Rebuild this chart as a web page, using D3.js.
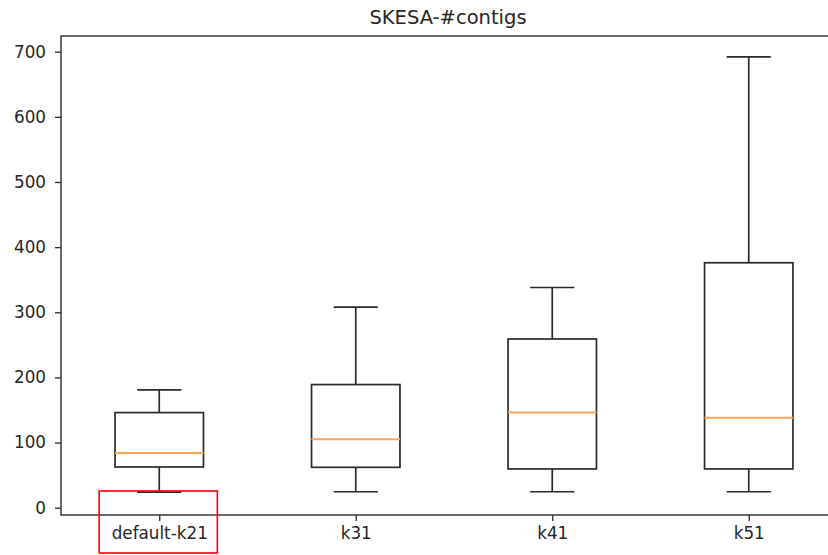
<!DOCTYPE html>
<html>
<head>
<meta charset="utf-8">
<script src="https://cdn.jsdelivr.net/npm/d3@7"></script>
<style>
  html, body { margin: 0; padding: 0; background: #fff; }
  svg { display: block; }
  text { font-family: "DejaVu Sans", sans-serif; fill: #262626; }
</style>
</head>
<body>
<svg id="chart" width="828" height="555"></svg>
<script>
// Number of contigs per k-mer setting (box statistics)
const categories = ["default-k21", "k31", "k41", "k51"];
const whiskerLow = [24, 24.5, 24.5, 24.5];
const q1 = [62.5, 62, 59.5, 59.5];
const median = [84, 105, 146, 138];
const q3 = [146, 189, 259, 376];
const whiskerHigh = [181, 308, 338, 692];
const yTicks = [0, 100, 200, 300, 400, 500, 600, 700];

const svg = d3.select("#chart");
const plotLeft = 61, plotRight = 847, plotTop = 36, plotBottom = 515;

const x = d3.scaleLinear().domain([0.5, categories.length + 0.5]).range([plotLeft, plotRight]);
const y = d3.scaleLinear().domain([-11.2, 724.1]).range([plotBottom, plotTop]);

const boxW = x(1.45) - x(1);       // box width 0.45 units
const capW = boxW / 2;

const ink = "#2b2b2b";
const lw = 1.7;
const tickFont = 16.8;

// axes
const yAxis = d3.axisLeft(y).tickValues(yTicks).tickSize(6).tickPadding(9);
const gy = svg.append("g").attr("transform", `translate(${plotLeft},0)`).call(yAxis);
gy.select(".domain").remove();
gy.selectAll("line").attr("stroke", ink).attr("stroke-width", 1.3);
gy.selectAll("text").attr("font-size", tickFont).attr("fill", "#262626");

const xAxis = d3.axisBottom(x).tickValues(categories.map((d, i) => i + 1))
  .tickFormat((d) => categories[d - 1]).tickSize(6).tickPadding(6);
const gx = svg.append("g").attr("transform", `translate(0,${plotBottom})`).call(xAxis);
gx.select(".domain").remove();
gx.selectAll("line").attr("stroke", ink).attr("stroke-width", 1.3);
gx.selectAll("text").attr("font-size", tickFont).attr("fill", "#262626");

// frame (spines)
svg.append("rect")
  .attr("x", plotLeft).attr("y", plotTop)
  .attr("width", plotRight - plotLeft).attr("height", plotBottom - plotTop)
  .attr("fill", "none").attr("stroke", ink).attr("stroke-width", 1.4);

// boxes
const g = svg.append("g");
categories.forEach((c, i) => {
  const cx = x(i + 1);
  // whiskers
  g.append("line").attr("x1", cx).attr("x2", cx).attr("y1", y(q3[i])).attr("y2", y(whiskerHigh[i]))
    .attr("stroke", ink).attr("stroke-width", lw);
  g.append("line").attr("x1", cx).attr("x2", cx).attr("y1", y(q1[i])).attr("y2", y(whiskerLow[i]))
    .attr("stroke", ink).attr("stroke-width", lw);
  // caps
  [whiskerHigh[i], whiskerLow[i]].forEach((v) => {
    g.append("line").attr("x1", cx - capW / 2).attr("x2", cx + capW / 2).attr("y1", y(v)).attr("y2", y(v))
      .attr("stroke", ink).attr("stroke-width", lw);
  });
  // box
  g.append("rect").attr("x", cx - boxW / 2).attr("y", y(q3[i]))
    .attr("width", boxW).attr("height", y(q1[i]) - y(q3[i]))
    .attr("fill", "none").attr("stroke", ink).attr("stroke-width", lw);
  // median
  g.append("line").attr("x1", cx - boxW / 2).attr("x2", cx + boxW / 2)
    .attr("y1", y(median[i])).attr("y2", y(median[i]))
    .attr("stroke", "#fca45c").attr("stroke-width", 2);
});

// title
svg.append("text").attr("x", (plotLeft + plotRight) / 2 - 6).attr("y", 24)
  .attr("text-anchor", "middle").attr("font-size", 19.5).text("SKESA-#contigs");

// highlight around the first category label
const firstLabel = gx.selectAll("text").nodes()[0];
const bb = firstLabel.getBBox();
const lx = bb.x + x(1);
svg.append("rect")
  .attr("x", lx - 12).attr("y", 491)
  .attr("width", bb.width + 22).attr("height", 553 - 491)
  .attr("fill", "none").attr("stroke", "#ff0000").attr("stroke-width", 1.6);
</script>
</body>
</html>
